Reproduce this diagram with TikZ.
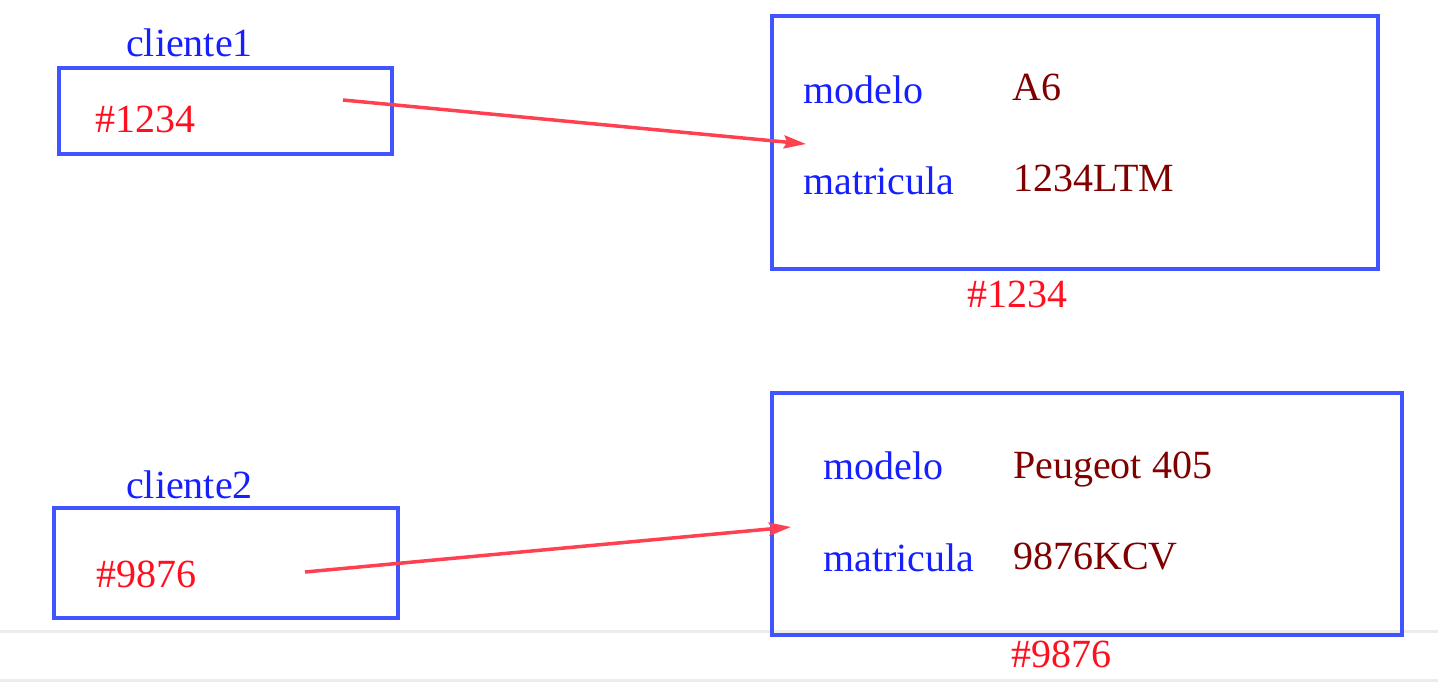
\documentclass[tikz,border=0pt]{standalone}
\usepackage{fontspec}
\setmainfont{Liberation Serif}
\usetikzlibrary{arrows.meta}
\definecolor{boxblue}{RGB}{64,84,255}
\definecolor{txtblue}{RGB}{22,32,255}
\definecolor{txtred}{RGB}{255,16,32}
\definecolor{arrred}{RGB}{255,64,80}
\definecolor{darkred}{RGB}{128,0,0}
\definecolor{rulegray}{RGB}{236,236,236}
\tikzset{
  memrect/.style={draw=boxblue, line width=3.5pt, inner sep=0pt, outer sep=0pt},
  lbl/.style={anchor=base west, inner sep=0pt, font=\fontsize{40pt}{44pt}\selectfont},
  bluelbl/.style={lbl, text=txtblue},
  redlbl/.style={lbl, text=txtred},
  vallbl/.style={lbl, text=darkred},
  ref/.style={draw=arrred, line width=3.5pt, -{Stealth[length=22pt,width=13pt,inset=3pt]}},
  grayrule/.style={draw=rulegray, line width=3pt}
}
\begin{document}
\begin{tikzpicture}[x=1pt,y=-1pt]
\useasboundingbox (0,0) rectangle (1438,698);
% gray rules
\coordinate (r1a) at (0,631); \coordinate (r1b) at (1438,631);
\coordinate (r2a) at (0,680); \coordinate (r2b) at (1438,680);
\draw[grayrule] (r1a) -- (r1b);
\draw[grayrule] (r2a) -- (r2b);
% boxes
\node[memrect, minimum width=333pt, minimum height=86pt] (b1) at (225.5,111) {};
\node[memrect, minimum width=344pt, minimum height=110pt] (b2) at (226,563) {};
\node[memrect, minimum width=606pt, minimum height=253pt] (o1) at (1075,142.5) {};
\node[memrect, minimum width=630pt, minimum height=242pt] (o2) at (1087,514) {};
% labels of variables
\node[bluelbl] (c1) at (126,57) {cliente1};
\node[redlbl] (v1) at (95,133) {\#1234};
\node[bluelbl] (c2) at (126,498) {cliente2};
\node[redlbl] (v2) at (96,587) {\#9876};
% object 1
\node[bluelbl] (m1) at (803,104) {modelo};
\node[vallbl] (a1) at (1012,101) {A6};
\node[bluelbl] (t1) at (803,194) {matricula};
\node[vallbl] (p1) at (1013,192) {1234LTM};
\node[redlbl] (h1) at (967,307) {\#1234};
% object 2
\node[bluelbl] (m2) at (823,479) {modelo};
\node[vallbl] (a2) at (1013,478) {Peugeot 405};
\node[bluelbl] (t2) at (823,571) {matricula};
\node[vallbl] (p2) at (1013,569) {9876KCV};
\node[redlbl] (h2) at (1011,667) {\#9876};
% references
\coordinate (s1) at (343,100);
\coordinate (e1) at (806,144);
\coordinate (s2) at (305,572);
\coordinate (e2) at (791,527);
\draw[ref] (s1) -- (e1);
\draw[ref] (s2) -- (e2);
\end{tikzpicture}
\end{document}
